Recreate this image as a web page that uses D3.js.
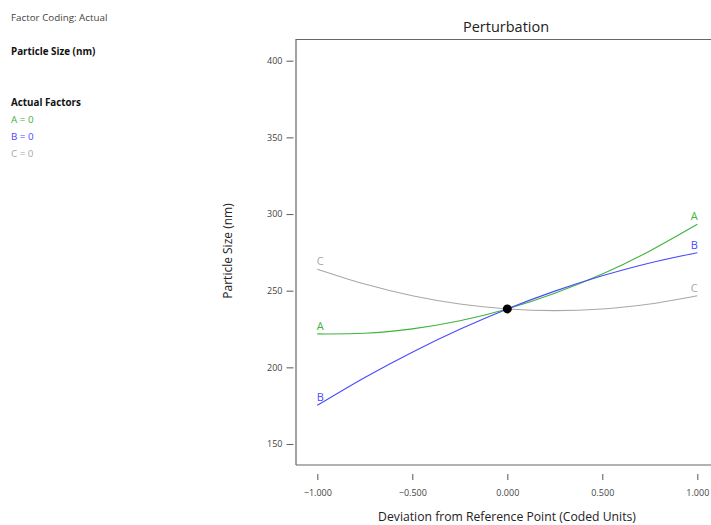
<!DOCTYPE html>
<html><head><meta charset="utf-8">
<script src="https://cdn.jsdelivr.net/npm/d3@7"></script>
<style>body{margin:0;background:#fff;}svg{display:block;font-family:"Open Sans","Noto Sans",sans-serif;}</style>
</head><body><svg id="c" width="711" height="525"></svg>
<script>
const xs = [-1, -0.75, -0.5, -0.25, 0, 0.25, 0.5, 0.75, 1];
const seriesA = [221.8, 222.2, 225.1, 230.4, 238.1, 248.3, 260.8, 275.9, 293.3];
const seriesB = [175.2, 193.4, 209.9, 224.8, 238.1, 249.7, 259.7, 268.1, 274.8];
const seriesC = [264.0, 254.3, 246.7, 241.3, 238.1, 237.0, 238.1, 241.3, 246.7];
const names = ["A", "B", "C"];
const colors = ["#3cb43c", "#4a4aff", "#a8a8a8"];
const xTicks = [-1, -0.5, 0, 0.5, 1];
const yTicks = [150, 200, 250, 300, 350, 400];
const refPoint = [0, 238.1];

const svg = d3.select("#c");
const x = d3.scaleLinear().domain([-1, 1]).range([317.3, 697.3]);
const y = d3.scaleLinear().domain([150, 400]).range([444, 60.7]);

// frame
svg.append("path").attr("d", "M296,465V39.5H712").attr("fill","none").attr("stroke","#666").attr("stroke-width",1.2);
svg.append("path").attr("d", "M296,465H712").attr("fill","none").attr("stroke","#666").attr("stroke-width",1.2);

// axes
const xa = svg.append("g").attr("transform","translate(0,474)")
  .call(d3.axisBottom(x).tickValues(xTicks).tickSize(6).tickPadding(10).tickFormat(d3.format(".3f")));
const ya = svg.append("g").attr("transform","translate(293.5,0)")
  .call(d3.axisLeft(y).tickValues(yTicks).tickSize(7).tickPadding(4));
[xa, ya].forEach(a => {
  a.select(".domain").remove();
  a.selectAll(".tick line").attr("stroke","#666").attr("stroke-width",1.1);
  a.selectAll(".tick text").attr("fill","#444").style("font-size","9px").style("font-family","'Open Sans','Noto Sans',sans-serif");
});

// curves
const line = d3.line().x(d => x(d[0])).y(d => y(d[1])).curve(d3.curveNatural);
[seriesA, seriesB, seriesC].forEach((s, i) => {
  const pts = xs.map((v, j) => [v, s[j]]);
  svg.append("path").attr("d", line(pts)).attr("fill","none").attr("stroke",colors[i]).attr("stroke-width",1.1);
  svg.append("text").attr("x", x(-1) + 3).attr("y", y(s[0]) - 4).attr("text-anchor","middle")
    .attr("fill", colors[i]).style("font-size","11px").text(names[i]);
  svg.append("text").attr("x", x(1) - 3).attr("y", y(s[s.length-1]) - 4).attr("text-anchor","middle")
    .attr("fill", colors[i]).style("font-size","11px").text(names[i]);
});

svg.append("circle").attr("cx", x(refPoint[0])).attr("cy", y(refPoint[1])).attr("r", 4.5).attr("fill","#000");

// titles
svg.append("text").attr("x", 506).attr("y", 31.5).attr("text-anchor","middle").attr("fill","#222").style("font-size","14.5px").text("Perturbation");
svg.append("text").attr("x", 507).attr("y", 520.5).attr("text-anchor","middle").attr("fill","#222").style("font-size","12.2px").text("Deviation from Reference Point (Coded Units)");
svg.append("text").attr("transform","translate(232,251) rotate(-90)").attr("text-anchor","middle").attr("fill","#222").style("font-size","12px").text("Particle Size (nm)");

// side info
const info = [
  {t:"Factor Coding: Actual", y:21, c:"#444", w:"normal"},
  {t:"Particle Size (nm)", y:55, c:"#111", w:"bold"},
  {t:"Actual Factors", y:106, c:"#111", w:"bold"},
  {t:"A = 0", y:123, c:colors[0], w:"normal"},
  {t:"B = 0", y:140, c:colors[1], w:"normal"},
  {t:"C = 0", y:157, c:colors[2], w:"normal"}
];
info.forEach(d => svg.append("text").attr("x", 11).attr("y", d.y).attr("fill", d.c)
  .style("font-size","9.8px").style("font-weight", d.w).text(d.t));
</script></body></html>
